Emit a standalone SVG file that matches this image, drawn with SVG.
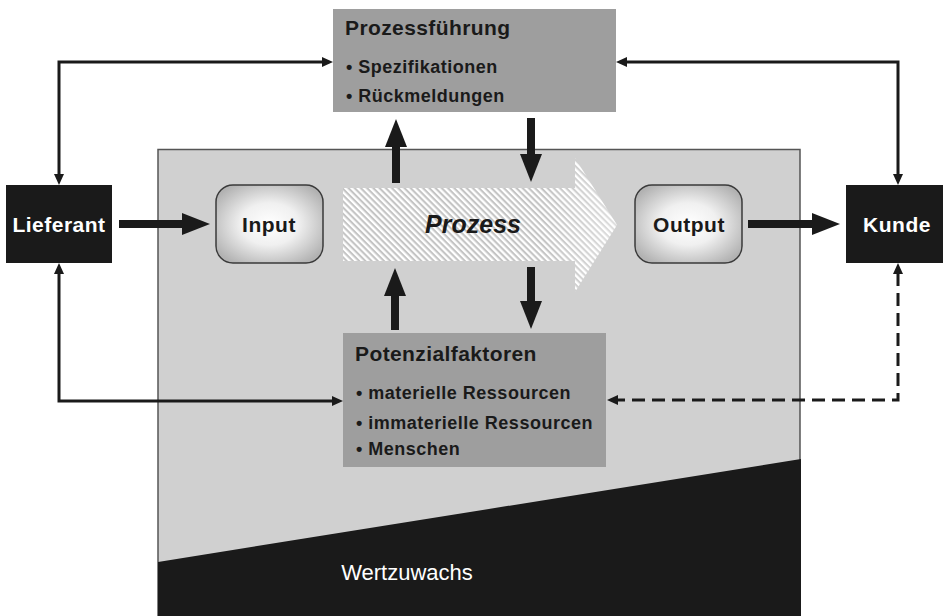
<svg xmlns="http://www.w3.org/2000/svg" width="943" height="616" viewBox="0 0 943 616">
  <style>
    .t { font-family: "Liberation Sans", Arial, sans-serif; font-weight: bold; }
    .dark { fill: #1a1a1a; }
    .lbl { font-size: 21px; letter-spacing: 0.5px; }
    .title { font-size: 21px; letter-spacing: 0.4px; fill: #1a1a1a; }
    .bul { font-size: 18px; letter-spacing: 0.5px; fill: #1a1a1a; }
    .white { fill: #ffffff; }
    .box { fill: #9e9e9e; }
    .ext { fill: #1a1a1a; }
    .round { stroke: #3a3a3a; stroke-width: 1.5; fill: url(#rg); }
    .thick { stroke: #1a1a1a; stroke-width: 8; fill: none; marker-end: url(#big); }
    .thin { stroke: #1a1a1a; stroke-width: 3; fill: none; marker-start: url(#small); marker-end: url(#small); }
    .dash { stroke: #1a1a1a; stroke-width: 3; fill: none; stroke-dasharray: 13 7; marker-start: url(#small); marker-end: url(#small); }
  </style>
  <defs>
    <radialGradient id="rg" cx="50%" cy="50%" r="60%">
      <stop offset="0" stop-color="#ffffff"/>
      <stop offset="0.45" stop-color="#f0f0f0"/>
      <stop offset="1" stop-color="#b2b2b2"/>
    </radialGradient>
    <pattern id="hatch" patternUnits="userSpaceOnUse" width="10" height="4.4" patternTransform="rotate(45)">
      <rect x="0" y="0" width="10" height="4.4" fill="#ffffff"/>
      <rect x="0" y="0" width="10" height="2.1" fill="#c4c4c4"/>
    </pattern>
    <linearGradient id="fade" x1="543" y1="0" x2="617" y2="0" gradientUnits="userSpaceOnUse">
      <stop offset="0" stop-color="#ffffff" stop-opacity="0"/>
      <stop offset="1" stop-color="#ffffff" stop-opacity="0.45"/>
    </linearGradient>
    <marker id="big" markerUnits="userSpaceOnUse" markerWidth="28" markerHeight="22" refX="2" refY="11" orient="auto" overflow="visible">
      <path d="M0,0 L28,11 L0,22 z" fill="#1a1a1a"/>
    </marker>
    <marker id="small" markerUnits="userSpaceOnUse" markerWidth="11" markerHeight="10" refX="1" refY="5" orient="auto-start-reverse" overflow="visible">
      <path d="M0,0 L11,5 L0,10 z" fill="#1a1a1a"/>
    </marker>
  </defs>

  <rect x="0" y="0" width="943" height="616" fill="#ffffff"/>

  <g id="bereich">
    <rect x="158" y="149.5" width="642" height="470" fill="#d0d0d0" stroke="#555555" stroke-width="1.5"/>
  </g>

  <g id="wertzuwachs">
    <polygon points="158,562 801,459 801,616 158,616" fill="#1a1a1a"/>
    <text class="t" x="407" y="580" text-anchor="middle" font-size="22" font-weight="normal" fill="#ffffff" style="font-weight:normal">Wertzuwachs</text>
  </g>

  <g id="prozess">
    <polygon points="343,188 575,188 575,158 617,225 575,292 575,261 343,261" fill="url(#hatch)"/>
    <polygon points="543,188 575,188 575,158 617,225 575,292 575,261 543,261" fill="url(#fade)"/>
    <text class="t" x="473" y="233" text-anchor="middle" font-size="25" font-style="italic" fill="#1a1a1a">Prozess</text>
  </g>

  <g id="prozessfuehrung">
    <rect class="box" x="333" y="9" width="283" height="103"/>
    <text class="t title" x="345" y="35">Prozessführung</text>
    <text class="t bul" x="346" y="73">• Spezifikationen</text>
    <text class="t bul" x="346" y="102">• Rückmeldungen</text>
  </g>

  <g id="potenzialfaktoren">
    <rect class="box" x="343" y="333" width="263" height="134"/>
    <text class="t title" x="355" y="361">Potenzialfaktoren</text>
    <text class="t bul" x="356" y="399">• materielle Ressourcen</text>
    <text class="t bul" x="356" y="429">• immaterielle Ressourcen</text>
    <text class="t bul" x="356" y="455">• Menschen</text>
  </g>

  <g id="lieferant">
    <rect class="ext" x="6" y="185" width="106" height="78"/>
    <text class="t lbl white" x="59" y="232" text-anchor="middle">Lieferant</text>
  </g>

  <g id="kunde">
    <rect class="ext" x="846" y="185" width="97" height="78"/>
    <text class="t lbl white" x="897" y="232" text-anchor="middle">Kunde</text>
  </g>

  <g id="input">
    <rect class="round" x="216" y="185" width="107" height="78" rx="17" ry="17"/>
    <text class="t lbl dark" x="269" y="232" text-anchor="middle">Input</text>
  </g>

  <g id="output">
    <rect class="round" x="635" y="185" width="107" height="78" rx="17" ry="17"/>
    <text class="t lbl dark" x="689" y="232" text-anchor="middle">Output</text>
  </g>

  <g id="connectors">
    <line class="thick" x1="119" y1="224" x2="184" y2="224"/>
    <line class="thick" x1="748" y1="224" x2="814" y2="224"/>
    <line class="thick" x1="396" y1="183" x2="396" y2="145"/>
    <line class="thick" x1="531" y1="118" x2="531" y2="156"/>
    <line class="thick" x1="395" y1="330" x2="395" y2="294"/>
    <line class="thick" x1="531" y1="267" x2="531" y2="303"/>
    <path class="thin" d="M59,175 L59,62 L323,62"/>
    <path class="thin" d="M898,175 L898,62 L626,62"/>
    <path class="thin" d="M59,273 L59,401 L333,401"/>
    <path class="dash" d="M898,273 L898,400 L617,400"/>
  </g>
</svg>
